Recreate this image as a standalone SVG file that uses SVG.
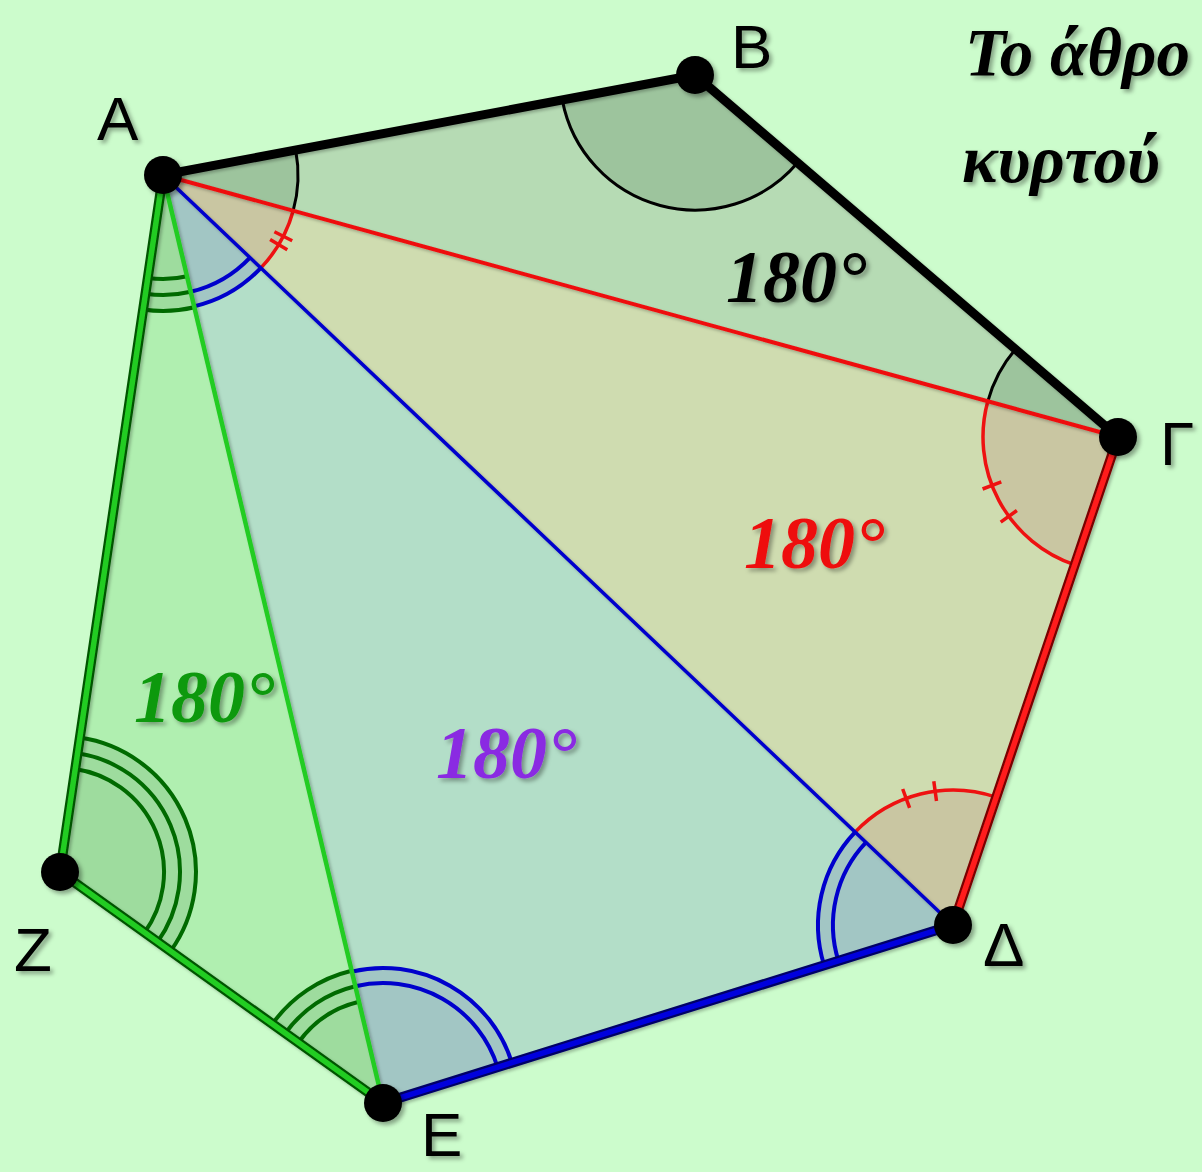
<svg xmlns="http://www.w3.org/2000/svg" width="1202" height="1172" viewBox="0 0 1202 1172">
<defs>
<filter id="sh" x="-20%" y="-20%" width="140%" height="140%">
<feDropShadow dx="3" dy="3" stdDeviation="2" flood-color="#000" flood-opacity="0.35"/>
</filter>
<filter id="lsh" x="-5%" y="-5%" width="110%" height="110%">
<feDropShadow dx="2" dy="2" stdDeviation="1.5" flood-color="#000" flood-opacity="0.25"/>
</filter>
</defs>
<style>
.lbl{font-family:"Liberation Sans",Arial,sans-serif;font-size:62px;fill:#000}
.num{font-family:"Liberation Serif","Times New Roman",serif;font-weight:bold;font-style:italic;font-size:74px}
.ttl{font-family:"Liberation Serif","Times New Roman",serif;font-weight:bold;font-style:italic;font-size:67px;fill:#000}
.arc{fill:none}
.ak{stroke:#000;stroke-width:3}
.ar{stroke:#ee1111;stroke-width:3.5}
.ab{stroke:#0000cc;stroke-width:4}
.ag{stroke:#006a00;stroke-width:4}
.dot{fill:#000}
</style>
<rect width="1202" height="1172" fill="#ccfccc"/>

<g id="fills">
<polygon points="163,175 695,75 1118,437" fill="#b6dbb4"/>
<polygon points="163,175 1118,437 953,925" fill="#cfdcb0"/>
<polygon points="163,175 953,925 383,1103" fill="#b3dec8"/>
<polygon points="163,175 383,1103 60,872" fill="#b0efb0"/>
</g>

<g id="sectors">
<path d="M163,175 L295.7,150.1 A135,135 0 0 1 293.2,210.7 Z" fill="#9dc49d"/>
<path d="M695,75 L562.3,99.9 A135,135 0 0 0 797.6,162.8 Z" fill="#9dc49d"/>
<path d="M1118,437 L1015.4,349.2 A135,135 0 0 0 987.8,401.3 Z" fill="#9dc49d"/>
<path d="M163,175 L293.2,210.7 A135,135 0 0 1 260.9,267.9 Z" fill="#c9c6a2"/>
<path d="M1118,437 L987.8,401.3 A135,135 0 0 0 1074.8,564.9 Z" fill="#c9c6a2"/>
<path d="M953,925 L855.1,832.1 A135,135 0 0 1 996.2,797.1 Z" fill="#c9c6a2"/>
<path d="M163,175 L260.9,267.9 A135,135 0 0 1 194.1,306.4 Z" fill="#a2c6c4"/>
<path d="M953,925 L855.1,832.1 A135,135 0 0 0 824.1,965.2 Z" fill="#a2c6c4"/>
<path d="M383,1103 L351.9,971.6 A135,135 0 0 1 511.9,1062.8 Z" fill="#a2c6c4"/>
<path d="M163,175 L194.4,307.3 A136,136 0 0 1 143.1,309.5 Z" fill="#9edc9e"/>
<path d="M60,872 L79.9,737.5 A136,136 0 0 1 170.6,951.1 Z" fill="#9edc9e"/>
<path d="M383,1103 L272.4,1023.9 A136,136 0 0 1 351.6,970.7 Z" fill="#9edc9e"/>
</g>

<g id="arcs" class="arc">
<path class="arc ak" d="M295.7,150.1 A135,135 0 0 1 293.2,210.7"/>
<path class="arc ak" d="M562.3,99.9 A135,135 0 0 0 797.6,162.8"/>
<path class="arc ak" d="M1015.4,349.2 A135,135 0 0 0 987.8,401.3"/>

<path class="arc ar" d="M293.2,210.7 A135,135 0 0 1 260.9,267.9"/>
<path class="arc ar" d="M274.4,231.8 L292.2,240.8 M270.1,239.4 L287.3,249.7"/>
<path class="arc ar" d="M987.8,401.3 A135,135 0 0 0 1074.8,564.9"/>
<path class="arc ar" d="M1001.3,481.8 L982.6,489 M1016.9,510.5 L1000.7,522.2"/>
<path class="arc ar" d="M855.1,832.1 A135,135 0 0 1 996.2,797.1"/>
<path class="arc ar" d="M909.6,807.8 L902.7,789 M936.5,801.1 L933.8,781.3"/>

<path class="arc ab" d="M260.9,267.9 A135,135 0 0 1 194.1,306.4 M250,257.6 A120,120 0 0 1 190.7,291.8"/>
<path class="arc ab" d="M855.1,832.1 A135,135 0 0 0 824.1,965.2 M866,842.4 A120,120 0 0 0 838.4,960.8"/>
<path class="arc ab" d="M351.9,971.6 A135,135 0 0 1 511.9,1062.8 M355.3,986.2 A120,120 0 0 1 497.6,1067.2"/>

<path class="arc ag" d="M194.4,307.3 A136,136 0 0 1 143.1,309.5 M190.7,291.8 A120,120 0 0 1 145.5,293.7 M187,276.2 A104,104 0 0 1 147.8,277.9"/>
<path class="arc ag" d="M79.9,737.5 A136,136 0 0 1 170.6,951.1 M77.5,753.3 A120,120 0 0 1 157.6,941.8 M75.2,769.1 A104,104 0 0 1 144.6,932.5"/>
<path class="arc ag" d="M272.4,1023.9 A136,136 0 0 1 351.6,970.7 M285.4,1033.2 A120,120 0 0 1 355.3,986.2 M298.4,1042.5 A104,104 0 0 1 359,1001.8"/>
</g>

<g id="connectors" filter="url(#lsh)" stroke-linecap="round">
<line x1="163" y1="175" x2="1118" y2="437" stroke="#ee1111" stroke-width="4"/>
<line x1="163" y1="175" x2="953" y2="925" stroke="#0000cc" stroke-width="3.5"/>
<line x1="163" y1="175" x2="383" y2="1103" stroke="#22cc22" stroke-width="4.5"/>
<line x1="1118" y1="437" x2="953" y2="925" stroke="#7a0000" stroke-width="10"/>
<line x1="1118" y1="437" x2="953" y2="925" stroke="#ff1a1a" stroke-width="5.5"/>
<line x1="953" y1="925" x2="383" y2="1103" stroke="#000066" stroke-width="10"/>
<line x1="953" y1="925" x2="383" y2="1103" stroke="#0000dd" stroke-width="5.5"/>
<polyline points="383,1103 60,872 163,175" fill="none" stroke="#005500" stroke-width="10" stroke-linejoin="round"/>
<polyline points="383,1103 60,872 163,175" fill="none" stroke="#22cc22" stroke-width="5.5" stroke-linejoin="round"/>
<polyline points="163,175 695,75 1118,437" fill="none" stroke="#000" stroke-width="9" stroke-linejoin="round"/>
</g>

<g id="node-A" filter="url(#sh)"><circle class="dot" cx="163" cy="175" r="19"/><text class="lbl" x="97" y="140">A</text></g>
<g id="node-B" filter="url(#sh)"><circle class="dot" cx="695" cy="75" r="19"/><text class="lbl" x="731" y="68">B</text></g>
<g id="node-G" filter="url(#sh)"><circle class="dot" cx="1118" cy="437" r="19"/><text class="lbl" x="1160" y="465">Γ</text></g>
<g id="node-D" filter="url(#sh)"><circle class="dot" cx="953" cy="925" r="19"/><text class="lbl" x="983" y="966">Δ</text></g>
<g id="node-E" filter="url(#sh)"><circle class="dot" cx="383" cy="1103" r="19"/><text class="lbl" x="421" y="1156">E</text></g>
<g id="node-Z" filter="url(#sh)"><circle class="dot" cx="60" cy="872" r="19"/><text class="lbl" x="14" y="971">Z</text></g>

<g id="labels" filter="url(#sh)">
<text class="num" x="726" y="302" fill="#000">180°</text>
<text class="num" x="744" y="568" fill="#ee1111">180°</text>
<text class="num" x="134" y="722" fill="#119911">180°</text>
<text class="num" x="436" y="778" fill="#8a2be2">180°</text>
<text class="ttl" x="965" y="75">Το άθρο</text>
<text class="ttl" x="962" y="182">κυρτού</text>
</g>
</svg>
